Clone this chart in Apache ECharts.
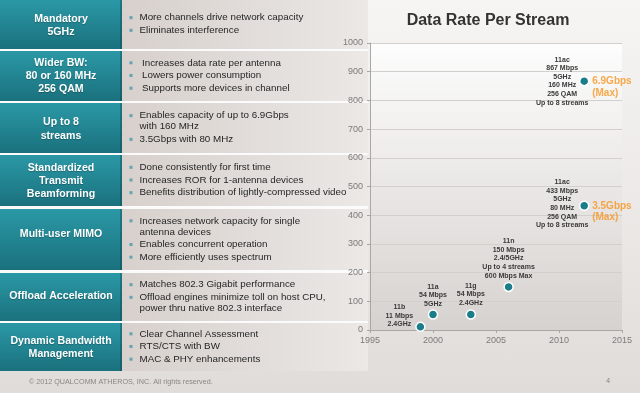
<!DOCTYPE html>
<html><head><meta charset="utf-8">
<script src="https://cdn.jsdelivr.net/npm/echarts@6/dist/echarts.min.js"></script>
<style>
html,body{margin:0;padding:0;}
#c{width:640px;height:393px;background:linear-gradient(to bottom,#f6f5f4 0%,#eae7e5 60%,#e0dcda 100%);}
</style>
</head><body><div id="c"></div>
<script>
// ---------- data ----------
const years = [1999, 2000, 2003, 2006, 2012, 2012];
const rates = [11, 54, 54, 150, 433, 867];
const standards = ['11b', '11a', '11g', '11n', '11ac', '11ac'];
const details = [
  ['11 Mbps', '2.4GHz'],
  ['54 Mbps', '5GHz'],
  ['54 Mbps', '2.4GHz'],
  ['150 Mbps', '2.4/5GHz', 'Up to 4 streams', '600 Mbps Max'],
  ['433 Mbps', '5GHz', '80 MHz', '256 QAM', 'Up to 8 streams'],
  ['867 Mbps', '5GHz', '160 MHz', '256 QAM', 'Up to 8 streams']
];
const maxRates = ['', '', '', '', '3.5Gbps', '6.9Gbps'];
const maxSuffix = '(Max)';
const xTicks = [1995, 2000, 2005, 2010, 2015];
const yTicks = [0, 100, 200, 300, 400, 500, 600, 700, 800, 900, 1000];
const chartTitle = 'Data Rate Per Stream';
const featureNames = [
  ['Mandatory', '5GHz'],
  ['Wider BW:', '80 or 160 MHz', '256 QAM'],
  ['Up to 8', 'streams'],
  ['Standardized', 'Transmit', 'Beamforming'],
  ['Multi-user MIMO'],
  ['Offload Acceleration'],
  ['Dynamic Bandwidth', 'Management']
];
const featureBullets = [
  ['More channels drive network capacity', 'Eliminates interference'],
  ['Increases data rate per antenna', 'Lowers power consumption', 'Supports more devices in channel'],
  ['Enables capacity of up to 6.9Gbps\nwith 160 MHz', '3.5Gbps with 80 MHz'],
  ['Done consistently for first time', 'Increases ROR for 1-antenna devices', 'Benefits distribution of lightly-compressed video'],
  ['Increases network capacity for single\nantenna devices', 'Enables concurrent operation', 'More efficiently uses spectrum'],
  ['Matches 802.3 Gigabit performance', 'Offload engines minimize toll on host CPU,\npower thru native 802.3 interface'],
  ['Clear Channel Assessment', 'RTS/CTS with BW', 'MAC & PHY enhancements']
];
const footerText = '\u00A9 2012 QUALCOMM ATHEROS, INC. All rights reserved.';
const pageNumber = '4';

// ---------- layout / style ----------
const FONT = "'Liberation Sans', Arial, Helvetica, sans-serif";
const rowBounds = [[0, 49], [51, 101], [103, 153], [155, 206], [209, 270], [273, 321], [323, 371]];
const titleShift = [0.8, 0, 1, 0.5, -5.5, -0.7, 0.4];
const bulletIndent = [139.5, 142, 139.5, 139.5, 139.5, 139.5, 139.5];
const labelOffsets = [[-21, -11], [0, -19], [0, -20], [0, -28.5], [-22, -2], [-22, 0]];

const graphics = [];
graphics.push({ type: 'rect', shape: { x: 0, y: 0, width: 368, height: 371 }, style: { fill: '#fbfbfb' }, z: -5 });
rowBounds.forEach(([y0, y1], r) => {
  graphics.push({
    type: 'rect', shape: { x: 0, y: y0, width: 122, height: y1 - y0 }, z: -4,
    style: { fill: new echarts.graphic.LinearGradient(0, 0, 0, 1, [
      { offset: 0, color: '#2b98a6' }, { offset: 1, color: '#1a717d' }]) }
  });
  graphics.push({
    type: 'rect', shape: { x: 120, y: y0, width: 2, height: y1 - y0 }, z: -3,
    style: { fill: 'rgba(10,60,70,0.35)' }
  });
  graphics.push({
    type: 'rect', shape: { x: 122, y: y0, width: 246, height: y1 - y0 }, z: -4,
    style: { fill: new echarts.graphic.LinearGradient(0, 0, 1, 0, [
      { offset: 0, color: '#d7d0cc' }, { offset: 1, color: '#ebe8e6' }]) }
  });
  const cy = (y0 + y1) / 2;
  const names = featureNames[r];
  const th = 13.2;
  const ty0 = cy + titleShift[r] - (names.length - 1) * th / 2;
  names.forEach((t, k) => {
    graphics.push({
      type: 'text', z: 5,
      style: { text: t, x: 61, y: ty0 + k * th, fill: '#ffffff', fontSize: 10.6, fontWeight: 'bold',
        fontFamily: FONT, align: 'center', verticalAlign: 'middle',
        textShadowColor: 'rgba(0,0,0,0.25)', textShadowOffsetY: 1, textShadowBlur: 1 }
    });
  });
  const lines = [];
  let y = 0;
  featureBullets[r].forEach((item, i) => {
    item.split('\n').forEach((ln, j) => {
      if (i > 0 || j > 0) y += (j === 0 ? 12.7 : 11);
      lines.push({ text: ln, y: y, first: j === 0 });
    });
  });
  const by0 = cy - 0.5 - y / 2;
  lines.forEach(l => {
    if (l.first) {
      graphics.push({ type: 'rect', z: 5, shape: { x: 129.5, y: by0 + l.y - 1.5, width: 3, height: 3 },
        style: { fill: '#5ea6b0' } });
    }
    graphics.push({
      type: 'text', z: 5,
      style: { text: l.text, x: bulletIndent[r], y: by0 + l.y, fill: '#262626', fontSize: 9.8,
        fontFamily: FONT, align: 'left', verticalAlign: 'middle' }
    });
  });
});
graphics.push({ type: 'text', z: 5, style: { text: footerText, x: 29, y: 381.7, fill: '#8a8684',
  fontSize: 7.2, fontFamily: FONT, align: 'left', verticalAlign: 'middle' } });
graphics.push({ type: 'text', z: 5, style: { text: pageNumber, x: 608, y: 381, fill: '#8a8684',
  fontSize: 7.5, fontFamily: FONT, align: 'center', verticalAlign: 'middle' } });

const mainData = years.map((yr, i) => ({
  value: [yr, rates[i]],
  label: { offset: labelOffsets[i] }
}));
const maxData = [];
years.forEach((yr, i) => { if (maxRates[i]) maxData.push({ value: [yr, rates[i]], name: maxRates[i] }); });

const chart = echarts.init(document.getElementById('c'), null, { renderer: 'canvas' });
chart.setOption({
  animation: false,
  textStyle: { fontFamily: FONT },
  title: {
    text: chartTitle, left: 488, top: 13, textAlign: 'center', padding: 0,
    textStyle: { fontSize: 16, fontWeight: 'bold', color: '#333333', fontFamily: FONT }
  },
  graphic: { elements: graphics },
  grid: {
    left: 370, right: 18, top: 43, bottom: 63, show: true, borderWidth: 0,
    backgroundColor: new echarts.graphic.LinearGradient(0, 0, 0, 1, [
      { offset: 0, color: '#fdfdfd' }, { offset: 1, color: '#d6d2cf' }])
  },
  xAxis: {
    type: 'value', min: xTicks[0], max: xTicks[xTicks.length - 1], interval: xTicks[1] - xTicks[0],
    axisLine: { show: true, lineStyle: { color: '#a9a6a4', width: 1 } },
    axisTick: { show: true, length: 3, lineStyle: { color: '#a9a6a4' } },
    splitLine: { show: false },
    axisLabel: { color: '#7d7a78', fontSize: 9, margin: 6, fontFamily: FONT, formatter: v => String(v) }
  },
  yAxis: {
    type: 'value', min: yTicks[0], max: yTicks[yTicks.length - 1], interval: yTicks[1] - yTicks[0],
    axisLine: { show: true, lineStyle: { color: '#a9a6a4', width: 1 } },
    axisTick: { show: true, length: 3, lineStyle: { color: '#a9a6a4' } },
    splitLine: { show: true, lineStyle: { color: '#d2cfcc', width: 1 } },
    axisLabel: { color: '#7d7a78', fontSize: 9, margin: 7, fontFamily: FONT, formatter: v => String(v) }
  },
  series: [
    {
      type: 'scatter', data: mainData, symbolSize: 9, z: 3,
      itemStyle: { color: '#1b7d8a', borderColor: '#ffffff', borderWidth: 1.5, opacity: 1 },
      label: {
        show: true, position: 'inside', align: 'center', verticalAlign: 'middle',
        fontSize: 7, fontWeight: 'bold', lineHeight: 8.6, color: '#3a3a3a', fontFamily: FONT,
        formatter: p => [standards[p.dataIndex]].concat(details[p.dataIndex]).join('\n')
      },
      emphasis: { disabled: true }
    },
    {
      type: 'scatter', data: maxData, symbolSize: 0, z: 4,
      label: {
        show: true, position: 'right', distance: 8, offset: [0, 5.9],
        fontSize: 10, fontWeight: 'bold', lineHeight: 11.7, color: '#f7941d', fontFamily: FONT,
        formatter: p => p.name + '\n' + maxSuffix
      },
      emphasis: { disabled: true }
    }
  ]
});
</script>
</body></html>
